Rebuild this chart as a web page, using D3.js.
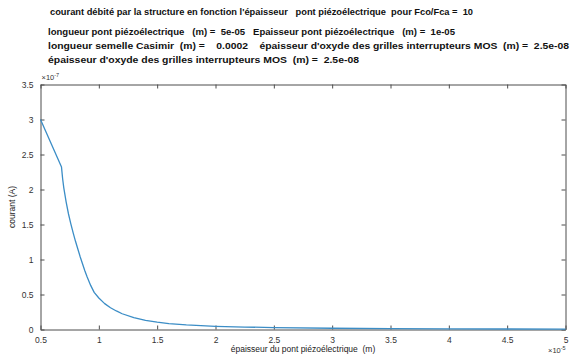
<!DOCTYPE html>
<html>
<head>
<meta charset="utf-8">
<script src="https://cdn.jsdelivr.net/npm/d3@7/dist/d3.min.js"></script>
<style>
  html, body { margin: 0; padding: 0; background: #fff; }
  svg { display: block; font-family: "Liberation Sans", Arial, sans-serif; }
</style>
</head>
<body>
<svg id="chart" width="571" height="356"></svg>
<script>
// Thickness of the piezoelectric bridge (×1e-5 m) and delivered current (×1e-7 A)
const thickness = [0.50, 0.68, 0.69, 0.70, 0.72, 0.74, 0.76, 0.78, 0.80, 0.82, 0.84, 0.86, 0.88, 0.90, 0.93, 0.96, 1.00, 1.05, 1.10, 1.15, 1.20, 1.30, 1.40, 1.50, 1.60, 1.75, 2.00, 2.25, 2.50, 3.00, 3.50, 4.00, 4.50, 5.00];
const current   = [3.00, 2.32, 2.15, 2.02, 1.82, 1.65, 1.51, 1.38, 1.26, 1.15, 1.04, 0.94, 0.84, 0.75, 0.63, 0.53, 0.45, 0.37, 0.31, 0.265, 0.225, 0.17, 0.13, 0.105, 0.085, 0.065, 0.046, 0.035, 0.028, 0.018, 0.012, 0.009, 0.007, 0.005];

const xTicks = [0.5, 1, 1.5, 2, 2.5, 3, 3.5, 4, 4.5, 5];
const yTicks = [0, 0.5, 1, 1.5, 2, 2.5, 3, 3.5];

const titleLines = [
  "courant débité par la structure en fonction l'épaisseur   pont piézoélectrique  pour Fco/Fca =  10",
  "longueur pont piézoélectrique   (m) =  5e-05   Epaisseur pont piézoélectrique   (m) =  1e-05",
  "longueur semelle Casimir  (m) =    0.0002    épaisseur d'oxyde des grilles interrupteurs MOS  (m) =  2.5e-08",
  "épaisseur d'oxyde des grilles interrupteurs MOS  (m) =  2.5e-08"
];

const svg = d3.select("#chart");
const m = { left: 40.5, right: 565.5, top: 84.5, bottom: 329.5 };

const x = d3.scaleLinear().domain([0.5, 5]).range([m.left, m.right]);
const y = d3.scaleLinear().domain([0, 3.5]).range([m.bottom, m.top]);

const axisColor = "#4d4d4d";
const tickLen = 4;

// Title block, left aligned, each line stretched to its set width
const titleY = [15, 35, 49, 62.5];
const titleX = [50, 48, 48, 48];
const titleW = [423, 407, 521, 311];
titleLines.forEach((t, i) => {
  svg.append("text")
    .attr("x", titleX[i]).attr("y", titleY[i])
    .attr("font-size", i === 0 ? 8.6 : 9).attr("font-weight", "bold")
    .attr("fill", "#111")
    .attr("xml:space", "preserve")
    .attr("textLength", titleW[i])
    .attr("lengthAdjust", "spacingAndGlyphs")
    .text(t);
});

// Axes, ticks pointing inward on all four sides
const gx = svg.append("g").attr("transform", `translate(0,${m.bottom})`)
  .call(d3.axisBottom(x).tickValues(xTicks).tickSizeInner(-tickLen).tickSizeOuter(0).tickPadding(7).tickFormat(d3.format("")));
const gy = svg.append("g").attr("transform", `translate(${m.left},0)`)
  .call(d3.axisLeft(y).tickValues(yTicks).tickSizeInner(-tickLen).tickSizeOuter(0).tickPadding(7).tickFormat(d3.format("")));
const gxTop = svg.append("g").attr("transform", `translate(0,${m.top})`)
  .call(d3.axisTop(x).tickValues(xTicks).tickSizeInner(-tickLen).tickSizeOuter(0).tickFormat(""));
const gyRight = svg.append("g").attr("transform", `translate(${m.right},0)`)
  .call(d3.axisRight(y).tickValues(yTicks).tickSizeInner(-tickLen).tickSizeOuter(0).tickFormat(""));

[gx, gy, gxTop, gyRight].forEach(g => {
  g.select(".domain").attr("stroke", axisColor).attr("stroke-width", 1);
  g.selectAll(".tick line").attr("stroke", axisColor);
  g.selectAll(".tick text").attr("fill", "#333").attr("font-size", 8.5).attr("font-family", "\"Liberation Sans\", Arial, sans-serif");
});

// Exponent annotations
const yExp = svg.append("text").attr("x", m.left + 1).attr("y", 80).attr("font-size", 7.5).attr("fill", "#333");
yExp.append("tspan").text("×10");
yExp.append("tspan").attr("dy", -3).attr("font-size", 5.5).text("-7");

const xExp = svg.append("text").attr("x", 548).attr("y", 353).attr("font-size", 7.5).attr("fill", "#333");
xExp.append("tspan").text("×10");
xExp.append("tspan").attr("dy", -3).attr("font-size", 5.5).text("-5");

// Axis labels
svg.append("text")
  .attr("x", (m.left + m.right) / 2).attr("y", 352)
  .attr("text-anchor", "middle").attr("font-size", 8.5).attr("fill", "#222")
  .attr("xml:space", "preserve")
  .text("épaisseur du pont piézoélectrique  (m)");

svg.append("text")
  .attr("transform", `translate(15,${(m.top + m.bottom) / 2}) rotate(-90)`)
  .attr("text-anchor", "middle").attr("font-size", 8.5).attr("fill", "#222")
  .text("courant (A)");

// Current curve (straight segments between samples)
const line = d3.line().x((d, i) => x(thickness[i])).y(d => y(d));
svg.append("path")
  .datum(current)
  .attr("fill", "none")
  .attr("stroke", "#3b8dc6")
  .attr("stroke-width", 1.3)
  .attr("stroke-linejoin", "round")
  .attr("d", line);
</script>
</body>
</html>
